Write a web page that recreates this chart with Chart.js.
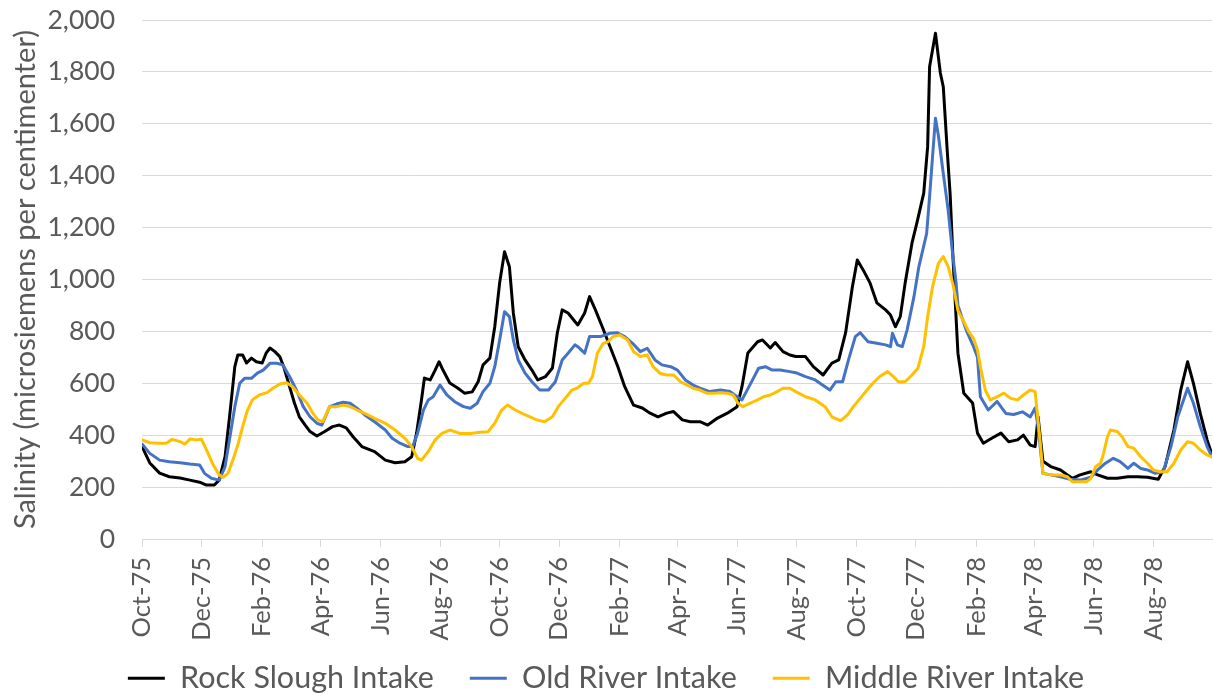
<!DOCTYPE html>
<html>
<head>
<meta charset="utf-8">
<script src="https://cdn.jsdelivr.net/npm/chart.js@4.4.1/dist/chart.umd.min.js"></script>
<style>
html,body{margin:0;padding:0;background:#ffffff;}
#wrap{width:1213px;height:693px;position:relative;}
</style>
</head>
<body>
<div id="wrap"><canvas id="c" width="1213" height="693"></canvas></div>
<script>
// x positions are day offsets from 1 Oct 1975
const tickDays = [0,61,123,183,244,305,366,427,489,548,609,670,731,792,854,913,974,1035];
const tickLabels = ['Oct-75','Dec-75','Feb-76','Apr-76','Jun-76','Aug-76','Oct-76','Dec-76','Feb-77','Apr-77','Jun-77','Aug-77','Oct-77','Dec-77','Feb-78','Apr-78','Jun-78','Aug-78'];
const seriesNames = ['Rock Slough Intake','Old River Intake','Middle River Intake'];
const seriesColors = ['#000000','#4472C4','#FFC000'];

const rockDays = [0,8,18,28,39,49,59,66,74,79,85,90,95,98,103,107,112,117,123,127,131,136,141,145,151,156,161,167,172,179,187,195,202,209,216,225,238,249,259,269,276,281,286,289,295,300,304,308,315,323,330,338,344,349,356,361,366,371,376,380,385,392,399,405,413,420,425,430,436,443,446,453,458,464,471,479,487,494,503,512,520,528,537,544,553,561,571,579,589,599,609,614,620,630,635,643,648,656,663,669,679,687,697,706,713,720,727,732,738,745,752,761,766,771,776,781,788,793,800,804,806,812,817,820,824,827,830,833,835,841,850,855,861,870,879,887,896,902,909,914,917,922,925,930,940,947,952,960,971,978,988,998,1009,1019,1029,1040,1047,1056,1063,1070,1076,1083,1090,1095];
const rockValues = [356,293,254,240,235,227,219,208,208,227,317,485,664,709,709,678,697,683,678,716,736,722,703,664,587,524,471,439,414,397,414,433,439,428,394,356,337,304,294,298,317,408,536,620,613,651,683,651,601,582,562,567,606,671,697,818,987,1107,1049,871,741,690,651,613,626,659,794,883,871,838,825,871,934,883,818,741,664,587,516,505,485,471,485,491,459,452,452,439,466,485,510,587,717,760,767,736,757,722,709,703,703,664,632,678,690,794,972,1075,1037,987,910,883,863,818,857,987,1141,1218,1333,1512,1820,1949,1796,1743,1499,1330,1080,860,716,562,524,408,369,389,408,375,382,400,362,356,471,300,292,279,266,247,234,247,259,247,234,234,240,240,238,230,279,420,574,683,600,484,382,325];

const oldDays = [0,8,18,28,39,49,59,64,71,79,85,90,95,100,105,112,118,124,131,138,144,151,158,165,172,179,184,192,199,206,213,220,228,238,249,256,264,272,277,282,288,293,298,305,312,320,329,336,343,349,356,361,366,371,376,380,385,392,399,407,416,423,430,436,443,446,453,458,469,479,486,494,502,510,517,525,532,541,548,556,564,571,581,592,602,609,614,622,631,638,645,653,663,669,679,689,699,704,710,717,723,730,735,743,752,761,766,768,773,778,783,790,795,803,806,809,812,815,820,825,829,833,835,840,844,851,855,858,866,875,884,892,901,909,914,917,922,930,940,950,960,971,978,986,994,1001,1009,1015,1022,1029,1037,1045,1053,1060,1070,1076,1083,1090,1095];
const oldValues = [366,330,304,298,294,289,285,253,234,227,279,394,510,600,619,619,639,651,677,677,671,626,574,510,471,446,439,510,520,527,523,504,478,452,420,388,369,356,356,407,497,536,548,593,555,529,510,504,523,568,600,664,767,876,857,767,690,639,606,574,574,606,690,716,748,741,716,780,780,793,795,780,754,722,735,690,671,664,651,613,593,581,568,574,568,548,536,593,658,664,651,651,645,641,626,613,587,574,606,606,690,780,795,760,754,748,741,793,748,741,806,934,1049,1178,1319,1473,1621,1555,1409,1268,1118,990,900,844,800,741,700,548,497,530,484,480,490,470,505,433,253,247,240,230,227,238,266,292,311,298,272,292,272,266,253,259,356,471,581,523,433,356,317];

const middleDays = [0,8,18,25,31,39,44,49,56,61,66,72,79,83,88,93,98,103,108,113,120,128,134,141,148,154,161,169,175,180,185,192,199,206,213,220,228,238,249,259,269,276,282,286,293,300,307,315,325,336,346,354,361,368,374,382,389,397,404,412,420,426,433,440,445,452,457,461,466,472,477,482,489,497,503,510,517,523,530,537,544,551,558,564,571,578,585,592,599,605,610,615,622,630,636,643,650,656,663,669,679,689,699,706,715,722,728,735,742,748,755,763,769,774,781,788,794,800,804,809,815,820,825,830,835,841,846,851,855,858,863,868,875,882,889,896,902,909,914,919,922,930,940,947,952,960,967,971,976,981,984,988,991,998,1003,1009,1015,1022,1029,1035,1042,1049,1056,1063,1070,1076,1083,1090,1095];
const middleValues = [382,371,369,369,384,375,366,385,382,384,343,292,247,238,253,304,362,433,497,536,555,564,581,597,602,587,555,523,484,459,452,510,510,516,510,497,484,465,446,420,388,356,311,304,337,382,407,420,407,407,411,413,446,497,516,497,484,471,459,452,471,510,542,574,581,600,600,626,716,754,760,780,786,767,722,703,709,664,639,632,632,606,593,581,574,562,562,564,562,555,523,510,523,536,548,555,568,581,581,568,548,536,510,471,456,478,510,542,574,600,626,645,626,606,606,632,658,741,857,972,1062,1088,1050,980,880,838,799,773,728,664,574,536,548,562,542,536,555,574,568,382,253,247,247,240,221,221,221,234,279,292,330,394,420,414,394,356,350,317,292,266,259,259,292,343,375,369,343,324,317];

const yTickStep = 200, yMin = 0, yMax = 2000;
const FONT = 'Lato, "Open Sans", sans-serif';
const TEXT = '#595959';
const GRID = '#d9d9d9';

function pts(days, vals){ return days.map((d,i)=>({x:d, y:vals[i]})); }
const allDays = [rockDays, oldDays, middleDays];
const allVals = [rockValues, oldValues, middleValues];

const datasets = seriesNames.map((name,i)=>({
  label: name,
  data: pts(allDays[i], allVals[i]),
  borderColor: seriesColors[i],
  backgroundColor: seriesColors[i],
  borderWidth: 3,
  pointRadius: 0,
  tension: 0,
  borderJoinStyle: 'round',
  borderCapStyle: 'round',
  order: 3 - i
}));

new Chart(document.getElementById('c'), {
  type: 'line',
  data: { datasets },
  options: {
    responsive: false,
    animation: false,
    devicePixelRatio: 1,
    layout: { padding: { top: 0, right: 1, bottom: 0, left: 0 } },
    plugins: {
      tooltip: { enabled: false },
      legend: {
        position: 'bottom',
        maxHeight: 66,
        labels: {
          font: { family: FONT, size: 30.5 },
          color: TEXT,
          boxWidth: 37,
          boxHeight: 3,
          padding: 36,
          sort: (a,b) => a.datasetIndex - b.datasetIndex,
          generateLabels: (chart) => Chart.defaults.plugins.legend.labels.generateLabels(chart)
              .map(l => Object.assign(l, { fillStyle: l.strokeStyle, lineWidth: 0 }))
        }
      }
    },
    scales: {
      x: {
        type: 'linear',
        min: 0,
        max: 1095,
        afterBuildTicks: (axis) => { axis.ticks = tickDays.map(v => ({ value: v })); },
        afterFit: (scale) => { scale.height = 88; scale._computeLabelArea = () => undefined; },
        ticks: {
          autoSkip: false,
          minRotation: 90,
          maxRotation: 90,
          padding: 10,
          color: TEXT,
          font: { family: FONT, size: 25.5 },
          callback: (v) => { const k = tickDays.indexOf(v); return k >= 0 ? tickLabels[k] : ''; }
        },
        grid: { drawOnChartArea: false, drawTicks: true, tickLength: 8, color: GRID, lineWidth: 1 },
        border: { display: true, color: GRID, width: 1 }
      },
      y: {
        min: yMin,
        max: yMax,
        afterFit: (scale) => { scale.width = 142; scale.paddingTop = 20; scale.paddingBottom = 0; },
        ticks: {
          stepSize: yTickStep,
          padding: 27,
          color: TEXT,
          font: { family: FONT, size: 26.5 },
          callback: (v) => Number(v).toLocaleString('en-US')
        },
        grid: { color: GRID, lineWidth: 1, drawTicks: false },
        border: { display: false },
        title: {
          display: true,
          text: 'Salinity (microsiemens per centimenter)',
          color: TEXT,
          font: { family: FONT, size: 29 },
          padding: { top: 8, bottom: 0 }
        }
      }
    }
  }
});
</script>
</body>
</html>
